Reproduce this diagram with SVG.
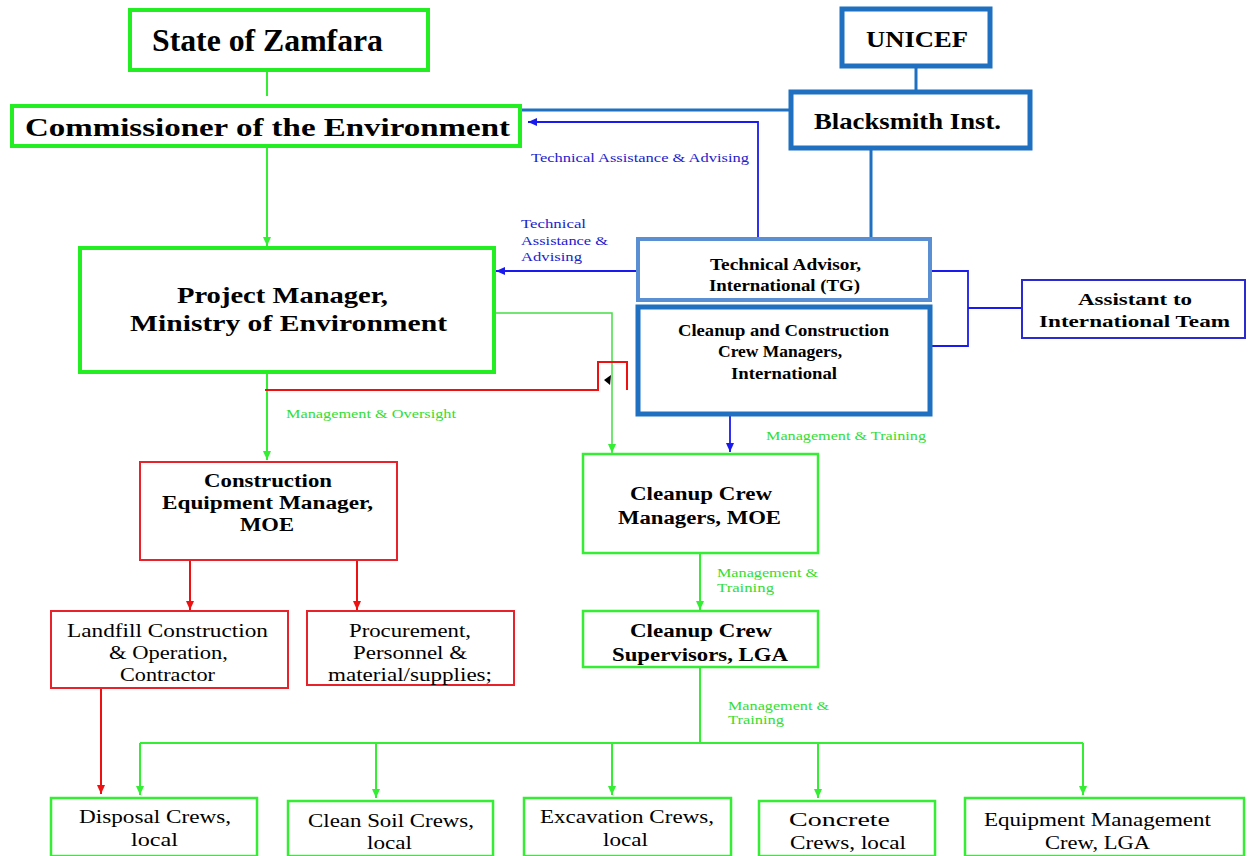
<svg xmlns="http://www.w3.org/2000/svg" width="1248" height="856" viewBox="0 0 1248 856" font-family="Liberation Serif, Times New Roman, Times, DejaVu Serif, serif">
<defs>
<style>
text{font-family:"Liberation Serif","Times New Roman",Times,"DejaVu Serif",serif;fill:#000}
.b{font-weight:bold}
.gbox{fill:#fff;stroke:#22ee22;stroke-width:4}
.gbox2{fill:#fff;stroke:#33ee33;stroke-width:2.5}
.rbox{fill:#fff;stroke:#e8222a;stroke-width:2}
.bbox{fill:#fff;stroke:#1f70c1;stroke-width:5}
.bbox2{fill:#fff;stroke:#5b8fd4;stroke-width:4}
.abox{fill:#fff;stroke:#2a2ad0;stroke-width:2}
.gl{fill:none;stroke:#33ee33;stroke-width:2}
.gl1{fill:none;stroke:#44dd44;stroke-width:1.5}
.rl{fill:none;stroke:#ee1111;stroke-width:2}
.bl{fill:none;stroke:#1f70c1;stroke-width:3}
.dl{fill:none;stroke:#1a1aee;stroke-width:1.8}
.lg{fill:#33dd33;font-size:12px}
.lb{fill:#2222cc;font-size:12px}
</style>
<marker id="ag" markerUnits="userSpaceOnUse" markerWidth="10" markerHeight="10" refX="9" refY="5" orient="auto"><path d="M0,1 L9,5 L0,9 z" fill="#33ee33"/></marker>
<marker id="ar" markerUnits="userSpaceOnUse" markerWidth="10" markerHeight="10" refX="9" refY="5" orient="auto"><path d="M0,1 L9,5 L0,9 z" fill="#ee1111"/></marker>
<marker id="ab" markerUnits="userSpaceOnUse" markerWidth="10" markerHeight="10" refX="9" refY="5" orient="auto"><path d="M0,1 L9,5 L0,9 z" fill="#1a1aee"/></marker>
</defs>
<rect width="1248" height="856" fill="#fff"/>

<g id="connectors">
<path class="gl" d="M267,70 V96"/>
<path class="bl" d="M520,110 H792"/>
<path class="bl" d="M916,66 V92"/>
<path class="bl" d="M871,148 V238"/>
<path class="dl" d="M758,238 V122 H528" marker-end="url(#ab)"/>
<path class="dl" d="M638,271 H496" marker-end="url(#ab)"/>
<path class="dl" d="M930,271 H968 V346 H930 M968,308 H1022"/>
<path class="gl" d="M267,146 V246" marker-end="url(#ag)"/>
<path class="gl1" d="M494,313 H612 V453" marker-end="url(#ag)"/>
<path class="gl" d="M267,372 V460" marker-end="url(#ag)"/>
<path class="rl" d="M265,390 H598 V362 H627 V390"/>
<path d="M604,380 L611,375 L610,385 z" fill="#000"/>
<path class="dl" d="M730,414 V452" marker-end="url(#ab)"/>
<path class="rl" d="M190,560 V610" marker-end="url(#ar)"/>
<path class="rl" d="M357,560 V610" marker-end="url(#ar)"/>
<path class="rl" d="M101,688 V794" marker-end="url(#ar)"/>
<path class="gl" d="M700,553 V610" marker-end="url(#ag)"/>
<path class="gl" d="M700,667 V743 M140,743 H1083"/>
<path class="gl" d="M140,743 V795" marker-end="url(#ag)"/>
<path class="gl" d="M376,743 V798" marker-end="url(#ag)"/>
<path class="gl" d="M612,743 V795" marker-end="url(#ag)"/>
<path class="gl" d="M818,743 V798" marker-end="url(#ag)"/>
<path class="gl" d="M1083,743 V795" marker-end="url(#ag)"/>
<text class="lb" x="531" y="162" textLength="218" lengthAdjust="spacingAndGlyphs">Technical Assistance &amp; Advising</text>
<text class="lb" x="521" y="228" textLength="65" lengthAdjust="spacingAndGlyphs">Technical</text>
<text class="lb" x="521" y="245" textLength="87" lengthAdjust="spacingAndGlyphs">Assistance &amp;</text>
<text class="lb" x="521" y="261" textLength="61" lengthAdjust="spacingAndGlyphs">Advising</text>
<text class="lg" x="286" y="418" textLength="170" lengthAdjust="spacingAndGlyphs">Management &amp; Oversight</text>
<text class="lg" x="766" y="440" textLength="160" lengthAdjust="spacingAndGlyphs" font-size="13">Management &amp; Training</text>
<text class="lg" x="717" y="577" textLength="101" lengthAdjust="spacingAndGlyphs">Management &amp;</text>
<text class="lg" x="717" y="592" textLength="57" lengthAdjust="spacingAndGlyphs">Training</text>
<text class="lg" x="728" y="710" textLength="101" lengthAdjust="spacingAndGlyphs">Management &amp;</text>
<text class="lg" x="728" y="724" textLength="56" lengthAdjust="spacingAndGlyphs">Training</text>
</g>

<g id="state-of-zamfara">
<rect class="gbox" x="130" y="10" width="298" height="60"/>
<text class="b" x="152" y="51" font-size="31" textLength="231" lengthAdjust="spacingAndGlyphs">State of Zamfara</text>
</g>
<g id="commissioner">
<rect class="gbox" x="12" y="106" width="508" height="40"/>
<text class="b" x="25" y="136" font-size="26" textLength="485" lengthAdjust="spacingAndGlyphs">Commissioner of the Environment</text>
</g>
<g id="unicef">
<rect class="bbox" x="842" y="9" width="148" height="57"/>
<text class="b" x="866" y="47" font-size="24" textLength="102" lengthAdjust="spacingAndGlyphs">UNICEF</text>
</g>
<g id="blacksmith">
<rect class="bbox" x="791" y="92" width="239" height="56"/>
<text class="b" x="814" y="129" font-size="24" textLength="187" lengthAdjust="spacingAndGlyphs">Blacksmith Inst.</text>
</g>
<g id="technical-advisor">
<rect class="bbox2" x="638" y="239" width="292" height="61"/>
<text class="b" x="710" y="270" font-size="16" textLength="151" lengthAdjust="spacingAndGlyphs">Technical Advisor,</text>
<text class="b" x="709" y="291" font-size="16" textLength="151" lengthAdjust="spacingAndGlyphs">International (TG)</text>
</g>
<g id="crew-managers-international">
<rect class="bbox" x="638" y="307" width="292" height="107" stroke-width="4"/>
<text class="b" x="678" y="336" font-size="16" textLength="211" lengthAdjust="spacingAndGlyphs">Cleanup and Construction</text>
<text class="b" x="718" y="357" font-size="16" textLength="124" lengthAdjust="spacingAndGlyphs">Crew Managers,</text>
<text class="b" x="731" y="379" font-size="16" textLength="106" lengthAdjust="spacingAndGlyphs">International</text>
</g>
<g id="assistant">
<rect class="abox" x="1022" y="280" width="223" height="58"/>
<text class="b" x="1078" y="305" font-size="17" textLength="114" lengthAdjust="spacingAndGlyphs">Assistant to</text>
<text class="b" x="1039" y="327" font-size="17" textLength="191" lengthAdjust="spacingAndGlyphs">International Team</text>
</g>
<g id="project-manager">
<rect class="gbox" x="80" y="248" width="414" height="124"/>
<text class="b" x="177" y="303" font-size="23" textLength="211" lengthAdjust="spacingAndGlyphs">Project Manager,</text>
<text class="b" x="130" y="331" font-size="23" textLength="317" lengthAdjust="spacingAndGlyphs">Ministry of Environment</text>
</g>
<g id="construction-equipment-manager">
<rect class="rbox" x="140" y="462" width="257" height="98"/>
<text class="b" x="204" y="487" font-size="18" textLength="128" lengthAdjust="spacingAndGlyphs">Construction</text>
<text class="b" x="162" y="509" font-size="18" textLength="211" lengthAdjust="spacingAndGlyphs">Equipment Manager,</text>
<text class="b" x="240" y="531" font-size="18" textLength="54" lengthAdjust="spacingAndGlyphs">MOE</text>
</g>
<g id="landfill">
<rect class="rbox" x="51" y="611" width="237" height="77"/>
<text x="67" y="637" font-size="18" textLength="201" lengthAdjust="spacingAndGlyphs">Landfill Construction</text>
<text x="109" y="659" font-size="18" textLength="119" lengthAdjust="spacingAndGlyphs">&amp; Operation,</text>
<text x="120" y="681" font-size="18" textLength="95" lengthAdjust="spacingAndGlyphs">Contractor</text>
</g>
<g id="procurement">
<rect class="rbox" x="307" y="611" width="207" height="74"/>
<text x="349" y="637" font-size="18" textLength="122" lengthAdjust="spacingAndGlyphs">Procurement,</text>
<text x="353" y="659" font-size="18" textLength="114" lengthAdjust="spacingAndGlyphs">Personnel &amp;</text>
<text x="328" y="681" font-size="18" textLength="164" lengthAdjust="spacingAndGlyphs">material/supplies;</text>
</g>
<g id="cleanup-crew-managers">
<rect class="gbox2" x="583" y="454" width="235" height="99"/>
<text class="b" x="630" y="500" font-size="18" textLength="142" lengthAdjust="spacingAndGlyphs">Cleanup Crew</text>
<text class="b" x="618" y="524" font-size="18" textLength="163" lengthAdjust="spacingAndGlyphs">Managers, MOE</text>
</g>
<g id="cleanup-crew-supervisors">
<rect class="gbox2" x="583" y="611" width="235" height="56"/>
<text class="b" x="630" y="637" font-size="18" textLength="142" lengthAdjust="spacingAndGlyphs">Cleanup Crew</text>
<text class="b" x="612" y="661" font-size="18" textLength="176" lengthAdjust="spacingAndGlyphs">Supervisors, LGA</text>
</g>
<g id="disposal">
<rect class="gbox2" x="51" y="798" width="206" height="58"/>
<text x="79" y="823" font-size="18" textLength="152" lengthAdjust="spacingAndGlyphs">Disposal Crews,</text>
<text x="131" y="846" font-size="18" textLength="47" lengthAdjust="spacingAndGlyphs">local</text>
</g>
<g id="clean-soil">
<rect class="gbox2" x="288" y="801" width="205" height="55"/>
<text x="308" y="827" font-size="18" textLength="166" lengthAdjust="spacingAndGlyphs">Clean Soil Crews,</text>
<text x="367" y="849" font-size="18" textLength="45" lengthAdjust="spacingAndGlyphs">local</text>
</g>
<g id="excavation">
<rect class="gbox2" x="524" y="798" width="207" height="58"/>
<text x="540" y="823" font-size="18" textLength="174" lengthAdjust="spacingAndGlyphs">Excavation Crews,</text>
<text x="603" y="846" font-size="18" textLength="45" lengthAdjust="spacingAndGlyphs">local</text>
</g>
<g id="concrete">
<rect class="gbox2" x="759" y="801" width="176" height="55"/>
<text x="789" y="826" font-size="18" textLength="101" lengthAdjust="spacingAndGlyphs">Concrete</text>
<text x="790" y="849" font-size="18" textLength="116" lengthAdjust="spacingAndGlyphs">Crews, local</text>
</g>
<g id="equipment-management">
<rect class="gbox2" x="965" y="798" width="279" height="58"/>
<text x="984" y="826" font-size="18" textLength="227" lengthAdjust="spacingAndGlyphs">Equipment Management</text>
<text x="1045" y="849" font-size="18" textLength="105" lengthAdjust="spacingAndGlyphs">Crew, LGA</text>
</g>
</svg>
